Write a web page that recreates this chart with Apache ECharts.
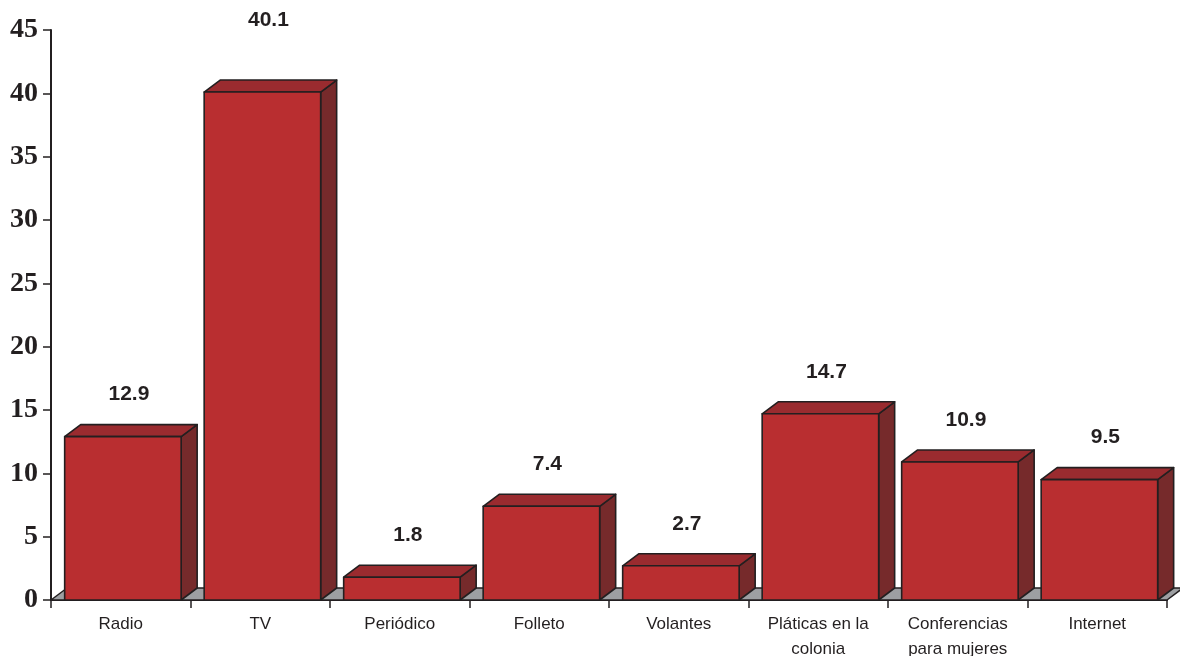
<!DOCTYPE html>
<html>
<head>
<meta charset="utf-8">
<script src="https://cdn.jsdelivr.net/npm/echarts@6/dist/echarts.min.js"></script>
<style>
  html, body { margin: 0; padding: 0; background: #ffffff; }
  #chart { width: 1180px; height: 656px; }
</style>
</head>
<body>
<div id="chart"></div>
<script>
// ---- data ----
const categories = ['Radio', 'TV', 'Periódico', 'Folleto', 'Volantes', 'Pláticas en la\ncolonia', 'Conferencias\npara mujeres', 'Internet'];
const values = [12.9, 40.1, 1.8, 7.4, 2.7, 14.7, 10.9, 9.5];
const yTicks = [0, 5, 10, 15, 20, 25, 30, 35, 40, 45];

// ---- style ----
const FRONT = '#b92e30', TOP = '#9a2b2f', SIDE = '#762a2b';
const FLOOR = '#9d9fa2', EDGE = '#231f20';
const DX = 16, DY = 12;
const LABEL_LIFT = 42;
const labelLiftByCategory = { 'TV': 72 };

const chart = echarts.init(document.getElementById('chart'), null, { renderer: 'canvas' });

function renderFloor(params, api) {
  const bw = api.size([1, 0])[0];
  const first = api.coord([0, 0]);
  const last = api.coord([categories.length - 1, 0]);
  const left = first[0] - bw / 2, right = last[0] + bw / 2, y = first[1];
  return {
    type: 'polygon',
    shape: { points: [[left, y], [left + DX, y - DY], [right + DX, y - DY], [right, y]] },
    style: { fill: FLOOR, stroke: EDGE, lineWidth: 1.5, lineJoin: 'round' },
    z2: 0
  };
}

function renderBar(params, api) {
  const idx = api.value(0);
  const val = api.value(1);
  const base = api.coord([idx, 0]);
  const top = api.coord([idx, val]);
  const bw = api.size([1, 0])[0];
  const bandStart = base[0] - bw / 2;
  const x0 = bandStart + bw * 0.098;
  const x1 = bandStart + bw * 0.933;
  const yt = top[1], yb = base[1];
  const lift = labelLiftByCategory[categories[idx]] || LABEL_LIFT;
  const st = { stroke: EDGE, lineWidth: 1.6, lineJoin: 'round' };
  return {
    type: 'group',
    children: [
      { type: 'polygon', shape: { points: [[x1, yt], [x1 + DX, yt - DY], [x1 + DX, yb - DY], [x1, yb]] },
        style: Object.assign({ fill: SIDE }, st) },
      { type: 'polygon', shape: { points: [[x0, yt], [x0 + DX, yt - DY], [x1 + DX, yt - DY], [x1, yt]] },
        style: Object.assign({ fill: TOP }, st) },
      { type: 'rect', shape: { x: x0, y: yt, width: x1 - x0, height: yb - yt },
        style: Object.assign({ fill: FRONT }, st) },
      { type: 'text', x: (x0 + x1) / 2 + 6, y: yt - lift,
        style: { text: String(values[idx]), fill: EDGE, font: 'bold 21px "Liberation Sans", Arial, sans-serif',
                 align: 'center', verticalAlign: 'middle' } }
    ]
  };
}

const option = {
  animation: false,
  backgroundColor: '#ffffff',
  grid: { left: 51, right: 13, top: 30, bottom: 56, containLabel: false, outerBoundsMode: 'none' },
  xAxis: {
    type: 'category',
    data: categories,
    boundaryGap: true,
    axisLine: { show: true, lineStyle: { color: EDGE, width: 2 } },
    axisTick: { show: true, length: 8, lineStyle: { color: EDGE, width: 1.5 } },
    axisLabel: {
      interval: 0, margin: 12, color: EDGE, fontSize: 17, lineHeight: 25,
      fontFamily: '"Liberation Sans", Arial, sans-serif'
    },
    splitLine: { show: false }
  },
  yAxis: {
    type: 'value',
    min: yTicks[0],
    max: yTicks[yTicks.length - 1],
    interval: yTicks[1] - yTicks[0],
    axisLine: { show: true, lineStyle: { color: EDGE, width: 2 } },
    axisTick: { show: true, length: 8, lineStyle: { color: EDGE, width: 1.5 } },
    axisLabel: {
      margin: 13, color: EDGE, fontSize: 28, fontWeight: 'bold',
      padding: [6, 0, 0, 0],
      fontFamily: '"Liberation Serif", "Times New Roman", serif'
    },
    splitLine: { show: false }
  },
  series: [
    {
      type: 'custom',
      renderItem: renderFloor,
      data: [[0, 0]],
      encode: { x: 0, y: 1 },
      clip: false,
      silent: true,
      z: 1
    },
    {
      type: 'custom',
      renderItem: renderBar,
      data: values.map((v, i) => [i, v]),
      encode: { x: 0, y: 1 },
      clip: false,
      z: 3
    }
  ]
};

chart.setOption(option);
</script>
</body>
</html>
